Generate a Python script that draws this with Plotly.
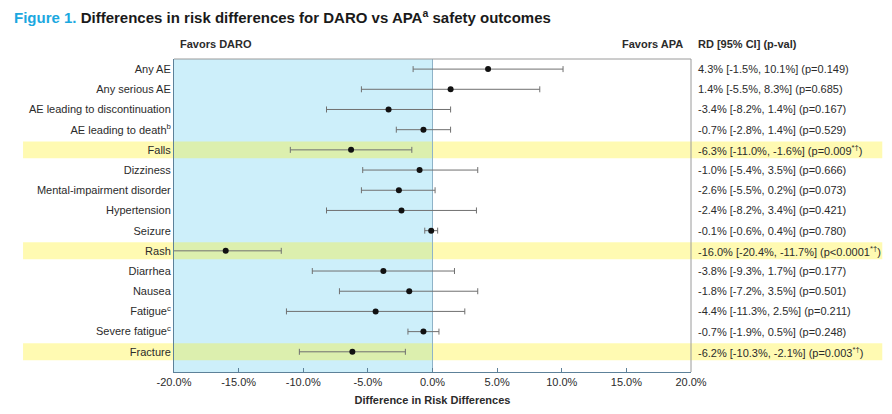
import plotly.graph_objects as go

# ---- data ----
outcomes = [
    "Any AE", "Any serious AE", "AE leading to discontinuation",
    "AE leading to death<sup>b</sup>", "Falls", "Dizziness",
    "Mental-impairment disorder", "Hypertension", "Seizure", "Rash",
    "Diarrhea", "Nausea", "Fatigue<sup>c</sup>", "Severe fatigue<sup>c</sup>", "Fracture",
]
rd = [4.3, 1.4, -3.4, -0.7, -6.3, -1.0, -2.6, -2.4, -0.1, -16.0, -3.8, -1.8, -4.4, -0.7, -6.2]
ci_low = [-1.5, -5.5, -8.2, -2.8, -11.0, -5.4, -5.5, -8.2, -0.6, -20.4, -9.3, -7.2, -11.3, -1.9, -10.3]
ci_high = [10.1, 8.3, 1.4, 1.4, -1.6, 3.5, 0.2, 3.4, 0.4, -11.7, 1.7, 3.5, 2.5, 0.5, -2.1]
p_text = ["=0.149", "=0.685", "=0.167", "=0.529", "=0.009", "=0.666", "=0.073", "=0.421",
          "=0.780", "<0.0001", "=0.177", "=0.501", "=0.211", "=0.248", "=0.003"]
significant = [False, False, False, False, True, False, False, False, False, True,
               False, False, False, False, True]
x_ticks = [-20, -15, -10, -5, 0, 5, 10, 15, 20]

FONT = "Liberation Sans, Arial, Helvetica, sans-serif"
TXT = "#2b2b2b"
AXC = "#5d8199"

ypos = list(range(len(outcomes)))

fig = go.Figure()
fig.add_trace(go.Scatter(
    x=rd, y=ypos, mode="markers",
    marker=dict(color="#111111", size=6),
    error_x=dict(type="data", symmetric=False,
                 array=[h - r for h, r in zip(ci_high, rd)],
                 arrayminus=[r - l for r, l in zip(rd, ci_low)],
                 color="#707070", thickness=1, width=3),
    showlegend=False, hoverinfo="skip",
))

shapes = [
    # favors DARO region
    dict(type="rect", xref="x", yref="paper", x0=-20, x1=0, y0=0, y1=1,
         fillcolor="#cdeffa", line=dict(width=0), layer="below"),
]
for i, sig in enumerate(significant):
    if sig:
        shapes.append(dict(type="rect", xref="paper", yref="y", x0=-0.292, x1=1.37,
                           y0=i - 0.42, y1=i + 0.42, fillcolor="rgba(255,238,0,0.30)",
                           line=dict(width=0), layer="below"))
# top and right borders
shapes.append(dict(type="line", xref="paper", yref="paper", x0=0, x1=1, y0=1, y1=1,
                   line=dict(color="#9a9a9a", width=1)))
shapes.append(dict(type="line", xref="paper", yref="paper", x0=1, x1=1, y0=0, y1=1,
                   line=dict(color="#9a9a9a", width=1)))

annotations = []
for i in ypos:
    sup = "<sup>*†</sup>" if significant[i] else ""
    txt = f"{rd[i]:.1f}% [{ci_low[i]:.1f}%, {ci_high[i]:.1f}%] (p{p_text[i]}{sup})"
    annotations.append(dict(x=1, xref="paper", y=i, yref="y", text=txt, showarrow=False,
                            xanchor="left", xshift=5, font=dict(size=11, color=TXT, family=FONT)))
annotations += [
    dict(x=-20, xref="x", y=1, yref="paper", text="<b>Favors DARO</b>", showarrow=False,
         xanchor="left", yanchor="middle", xshift=4, yshift=15,
         font=dict(size=11, color=TXT, family=FONT)),
    dict(x=20, xref="x", y=1, yref="paper", text="<b>Favors APA</b>", showarrow=False,
         xanchor="right", yanchor="middle", xshift=-6, yshift=15,
         font=dict(size=11, color=TXT, family=FONT)),
    dict(x=1, xref="paper", y=1, yref="paper", text="<b>RD [95% CI] (p-val)</b>", showarrow=False,
         xanchor="left", yanchor="middle", xshift=5, yshift=15,
         font=dict(size=11, color=TXT, family=FONT)),
]

fig.update_layout(
    width=892, height=414,
    margin=dict(l=174, r=201, t=59, b=42),
    paper_bgcolor="white", plot_bgcolor="white",
    font=dict(family=FONT, size=11, color=TXT),
    title=dict(
        text="<b><span style='color:#1ba8df'>Figure 1.</span> Differences in risk differences for DARO vs APA<sup>a</sup> safety outcomes</b>",
        x=14 / 892, xanchor="left", xref="container",
        y=1 - 18 / 414, yanchor="middle", yref="container",
        font=dict(size=15, color="#1a1a1a", family=FONT),
    ),
    shapes=shapes,
    annotations=annotations,
    xaxis=dict(range=[-20, 20], tickvals=x_ticks, automargin=False,
               ticktext=[f"{v:.1f}%" for v in x_ticks],
               showgrid=False, zeroline=True, zerolinecolor="#8fb3c8", zerolinewidth=1,
               showline=True, linecolor=AXC, linewidth=1,
               ticks="inside", ticklen=4, tickcolor=AXC,
               tickfont=dict(size=11, color=TXT),
               title=dict(text="<b>Difference in Risk Differences</b>", standoff=9,
                          font=dict(size=11, color=TXT))),
    yaxis=dict(range=[15, -0.5], tickvals=ypos, ticktext=outcomes, automargin=False,
               showgrid=False, zeroline=False, showline=True, linecolor=AXC, linewidth=1,
               ticks="", tickfont=dict(size=11, color=TXT)),
)

fig.write_html("out.html")
